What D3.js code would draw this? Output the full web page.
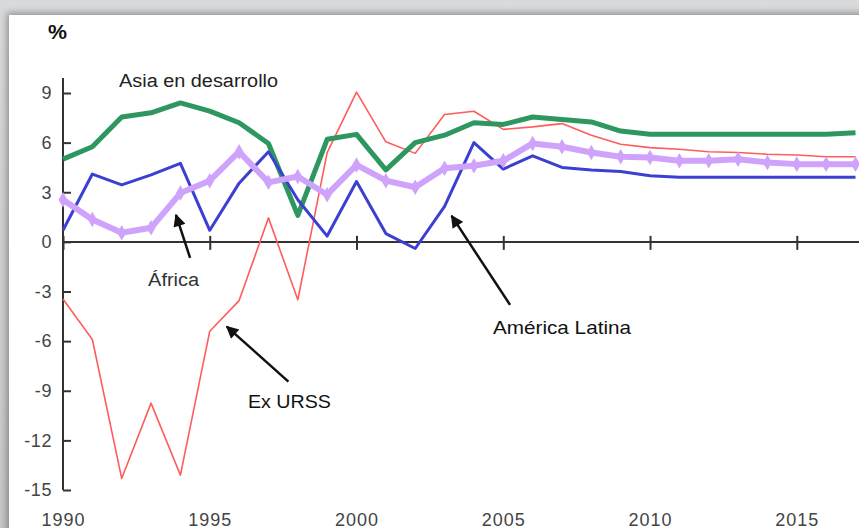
<!DOCTYPE html>
<html>
<head>
<meta charset="utf-8">
<script src="https://cdn.jsdelivr.net/npm/d3@7"></script>
<style>
  html, body { margin: 0; padding: 0; }
  body { width: 859px; height: 528px; overflow: hidden; position: relative;
         background: linear-gradient(#d9dadb, #c4c6c8); font-family: "Liberation Sans", Arial, sans-serif; }
  #panel { position: absolute; left: 9px; top: 15px; width: 860px; height: 530px; background: #fff;
           box-shadow: 0 0 7px 2px rgba(0,0,0,0.35); }
  svg { position: absolute; left: 0; top: 0; }
</style>
</head>
<body>
<div id="panel"></div>
<script>
// ---- data ----
const years = d3.range(1990, 2018);
const asia =    [5.0, 5.75, 7.55, 7.8, 8.4, 7.9, 7.2, 5.95, 1.6, 6.2, 6.5, 4.35, 6.0, 6.45, 7.2, 7.1, 7.55, 7.4, 7.25, 6.7, 6.5, 6.5, 6.5, 6.5, 6.5, 6.5, 6.5, 6.6];
const latam =   [0.7, 4.1, 3.45, 4.05, 4.75, 0.7, 3.55, 5.45, 2.55, 0.35, 3.65, 0.5, -0.4, 2.15, 6.0, 4.4, 5.2, 4.5, 4.35, 4.25, 4.0, 3.9, 3.9, 3.9, 3.9, 3.9, 3.9, 3.9];
const africa =  [2.55, 1.35, 0.55, 0.85, 2.95, 3.7, 5.45, 3.6, 3.95, 2.85, 4.65, 3.7, 3.3, 4.45, 4.6, 4.9, 5.95, 5.75, 5.4, 5.15, 5.1, 4.9, 4.9, 5.0, 4.8, 4.7, 4.7, 4.7];
const exurss =  [-3.45, -5.9, -14.3, -9.75, -14.1, -5.4, -3.55, 1.45, -3.5, 5.4, 9.05, 6.05, 5.35, 7.7, 7.9, 6.8, 6.95, 7.15, 6.45, 5.9, 5.7, 5.6, 5.45, 5.4, 5.3, 5.25, 5.15, 5.15];
const yTicks = [-15, -12, -9, -6, -3, 0, 3, 6, 9];
const xTicks = [1990, 1995, 2000, 2005, 2010, 2015];
const unitLabel = "%";
const labels = [
  {text: "Asia en desarrollo", year: 1991.91, value: 9.37, w: 159, size: 18, color: "#222"},
  {text: "África", year: 1992.9, value: -2.66, w: 51, size: 18, color: "#333"},
  {text: "Ex URSS", year: 1996.3, value: -10.04, w: 83, size: 19, color: "#111"},
  {text: "América Latina", year: 2004.65, value: -5.56, w: 138, size: 19, color: "#111"}
];
const arrows = [
  {from: [1994.33, -0.97], to: [1993.85, 1.63]},
  {from: [1997.68, -8.45], to: [1995.58, -5.12]},
  {from: [2005.23, -3.81], to: [2003.24, 1.57]}
];

// ---- chart ----
const W = 859, H = 528;
const svg = d3.select("body").append("svg").attr("width", W).attr("height", H);
const x = d3.scaleLinear().domain([1990, 2017]).range([63, 855.5]);
const y = d3.scaleLinear().domain([-15, 9]).range([490, 93]);

const defs = svg.append("defs");
defs.append("marker").attr("id", "ah").attr("viewBox", "0 0 10 10")
  .attr("refX", 9).attr("refY", 5).attr("markerWidth", 6).attr("markerHeight", 5)
  .attr("markerUnits", "strokeWidth").attr("orient", "auto")
  .append("path").attr("d", "M0,0 L10,5 L0,10 z").attr("fill", "#111");

// y axis
const yAx = svg.append("g").attr("transform", `translate(${x(1990)},0)`)
  .call(d3.axisLeft(y).tickValues(yTicks).tickFormat(d => String(d))
    .tickSizeInner(-8).tickSizeOuter(0).tickPadding(11));
yAx.select(".domain").remove();
yAx.selectAll(".tick line").attr("stroke", "#333").attr("stroke-width", 2);
yAx.selectAll(".tick text").attr("font-family", "Liberation Sans, Arial, sans-serif")
  .attr("font-size", 18).attr("fill", "#444").attr("letter-spacing", "0.6px");
svg.append("line").attr("x1", x(1990)).attr("x2", x(1990)).attr("y1", y(9.9)).attr("y2", y(-15))
  .attr("stroke", "#333").attr("stroke-width", 2);

// x axis at zero
const xAx = svg.append("g").attr("transform", `translate(0,${y(0)})`)
  .call(d3.axisBottom(x).tickValues(xTicks).tickFormat(d3.format("d")).tickSizeInner(8).tickSizeOuter(0).tickPadding(263));
xAx.select(".domain").remove();
xAx.selectAll(".tick line").attr("y1", -6).attr("stroke", "#333").attr("stroke-width", 2);
xAx.selectAll(".tick text").attr("font-family", "Liberation Sans, Arial, sans-serif")
  .attr("font-size", 18).attr("fill", "#444").attr("letter-spacing", "1px");
svg.append("line").attr("x1", x(1990)).attr("x2", W).attr("y1", y(0)).attr("y2", y(0))
  .attr("stroke", "#333").attr("stroke-width", 2);

// lines
const line = vals => d3.line().x((d, i) => x(years[i])).y(d => y(d))(vals);
svg.append("path").attr("d", line(exurss)).attr("fill", "none").attr("stroke", "#ff5c5c").attr("stroke-width", 1.6).attr("stroke-linejoin", "round");
svg.append("path").attr("d", line(asia)).attr("fill", "none").attr("stroke", "#2e9760").attr("stroke-width", 5).attr("stroke-linejoin", "round");
svg.append("path").attr("d", line(latam)).attr("fill", "none").attr("stroke", "#3b3fd2").attr("stroke-width", 3).attr("stroke-linejoin", "round");
svg.append("path").attr("d", line(africa)).attr("fill", "none").attr("stroke", "#cfa3fb").attr("stroke-width", 6).attr("stroke-linejoin", "round");
svg.append("g").selectAll("path").data(africa).join("path")
  .attr("transform", (d, i) => `translate(${x(years[i])},${y(d)})`)
  .attr("d", d3.symbol(d3.symbolDiamond, 70)).attr("fill", "#cfa3fb");

// annotations
svg.append("g").selectAll("line").data(arrows).join("line")
  .attr("x1", d => x(d.from[0])).attr("y1", d => y(d.from[1]))
  .attr("x2", d => x(d.to[0])).attr("y2", d => y(d.to[1]))
  .attr("stroke", "#111").attr("stroke-width", 2.5).attr("marker-end", "url(#ah)");

svg.append("g").selectAll("text").data(labels).join("text")
  .attr("x", d => x(d.year)).attr("y", d => y(d.value))
  .attr("font-family", "Liberation Sans, Arial, sans-serif")
  .attr("font-size", d => d.size).attr("fill", d => d.color)
  .attr("textLength", d => d.w).attr("lengthAdjust", "spacingAndGlyphs")
  .text(d => d.text);

svg.append("text").attr("x", 48).attr("y", 39).attr("font-family", "Liberation Sans, Arial, sans-serif")
  .attr("font-weight", "bold").attr("font-size", 20).attr("fill", "#111")
  .attr("textLength", 19).attr("lengthAdjust", "spacingAndGlyphs").text(unitLabel);
</script>
</body>
</html>
